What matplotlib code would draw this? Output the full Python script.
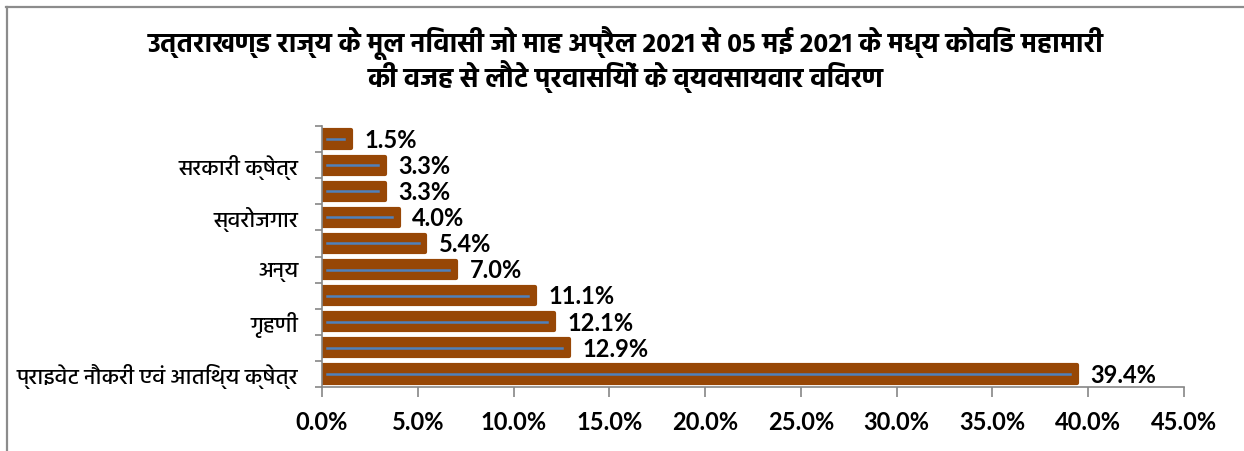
import matplotlib
matplotlib.use("Agg")
import matplotlib.pyplot as plt
from matplotlib.lines import Line2D

# Data (bottom to top, as drawn by Excel)
categories = [
    "प्राइवेट नौकरी एवं आतिथ्य क्षेत्र", "", "गृहणी", "", "अन्य",
    "", "स्वरोजगार", "", "सरकारी क्षेत्र", "",
]
shares = [39.4, 12.9, 12.1, 11.1, 7.0, 5.4, 4.0, 3.3, 3.3, 1.5]
x_ticks = [0, 5, 10, 15, 20, 25, 30, 35, 40, 45]

title = ("उत्तराखण्ड राज्य के मूल निवासी जो माह अप्रैल 2021 से 05 मई 2021 के मध्य कोविड महामारी\n"
         "की वजह से लौटे प्रवासियों के व्यवसायवार विवरण")

BROWN = "#974706"
BLUE = "#4F81BD"
GRID = "#868686"
HINDI = ["Hind", "Noto Sans Devanagari", "DejaVu Sans"]
NUM = ["Lato", "DejaVu Sans"]

fig = plt.figure(figsize=(12.44, 4.51), dpi=100)
ax = fig.add_axes([0.2588, 0.1419, 0.6930, 0.5787])

y = list(range(len(shares)))
bars = ax.barh(y, shares, height=0.66, color=BROWN, edgecolor=BROWN, linewidth=3)
for b in bars:
    b.set_joinstyle("round")

# thin blue line running inside each bar
for yi, v in zip(y, shares):
    ax.add_line(Line2D([0.25, max(v - 0.35, 0.3)], [yi, yi], color=BLUE, lw=1.8, zorder=3))
    ax.text(v + 0.7, yi - 0.05, f"{v:.1f}%", va="center", ha="left",
            fontsize=17, fontweight="bold", family=NUM)

ax.set_xlim(0, 45)
ax.set_ylim(-0.5, len(shares) - 0.5)
ax.set_xticks(x_ticks)
ax.set_xticklabels([f"{t:.1f}%" for t in x_ticks], fontsize=17, fontweight="bold", family=NUM)

# Excel style: ticks between categories, labels on categories
ax.set_yticks([i - 0.5 for i in range(len(shares) + 1)])
ax.set_yticklabels([])
ax.set_yticks(y, minor=True)
ax.set_yticklabels(categories, minor=True, fontsize=16, fontweight="medium", family=HINDI)
ax.tick_params(axis="y", which="minor", length=0, pad=17)
ax.tick_params(axis="y", which="major", length=5, width=1.2, color=GRID)
ax.tick_params(axis="x", length=7, width=1.2, color=GRID, pad=10)

for side in ("top", "right"):
    ax.spines[side].set_visible(False)
for side in ("left", "bottom"):
    ax.spines[side].set_color(GRID)
    ax.spines[side].set_linewidth(1.2)

fig.text(0.503, 0.867, title, ha="center", va="center", fontsize=19.5,
         fontweight="bold", family=HINDI, linespacing=1.0)

# chart-area border (cropped on the right and bottom)
fig.add_artist(Line2D([6 / 1244, 1], [1 - 7 / 451] * 2, transform=fig.transFigure, color="#8C8C8C", lw=1.6))
fig.add_artist(Line2D([6.5 / 1244] * 2, [0, 1 - 7 / 451], transform=fig.transFigure, color="#8C8C8C", lw=1.6))

fig.savefig("out.png")
